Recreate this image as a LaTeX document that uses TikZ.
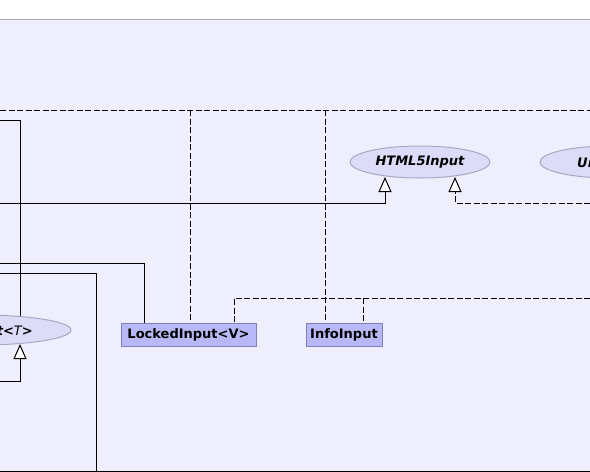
\documentclass[tikz,border=0pt]{standalone}
\usepackage{fontspec}
\setmainfont{DejaVu Sans}
\usetikzlibrary{shapes.geometric,arrows.meta}
\pgfdeclarelayer{back}
\pgfdeclarelayer{bg}
\pgfsetlayers{back,bg,main}
\definecolor{pagebg}{HTML}{EEEEFC}
\definecolor{topline}{HTML}{AAAAB4}
\definecolor{boxfill}{HTML}{B8B8F6}
\definecolor{boxline}{HTML}{7F7FBF}
\definecolor{ellfill}{HTML}{DCDCF8}
\definecolor{ellline}{HTML}{A8A8C4}
\tikzset{
  classbox/.style={draw=boxline,fill=boxfill,line width=1pt,rectangle,inner sep=0pt,
    font=\bfseries\fontsize{13}{15}\selectfont},
  ifell/.style={draw=ellline,fill=ellfill,line width=1pt,ellipse,inner sep=0pt,
    font=\bfseries\itshape\fontsize{13}{15}\selectfont},
  conn/.style={line width=1pt,black},
  dconn/.style={conn,dash pattern=on 6pt off 2.5pt},
  inh/.style={-{Triangle[open,length=15pt,width=13pt,fill=white]}},
}
\begin{document}
\begin{tikzpicture}[x=1pt,y=-1pt]
\useasboundingbox (0,0) rectangle (590,472);
\clip (0,0) rectangle (590,472);
\begin{pgfonlayer}{back}
\fill[white] (0,0) rectangle (590,472);
\fill[pagebg] (0,19.5) rectangle (590,472);
\draw[topline,line width=1pt] (0,19.5) -- (590,19.5);
\end{pgfonlayer}

% nodes
\node[ifell,minimum width=140pt,minimum height=32pt] (html5) at (420,162) {HTML5Input};
\node[ifell,minimum width=140pt,minimum height=32pt] (ur) at (610,162) {};
\node[anchor=base west,font=\bfseries\itshape\fontsize{13}{15}\selectfont,inner sep=0pt] (urtext) at (577,167) {Ur};
\node[ifell,minimum width=182pt,minimum height=30pt] (abst) at (-20,330) {};
\node[anchor=base east,font=\bfseries\itshape\fontsize{13}{15}\selectfont,inner sep=0pt] (abstext) at (33,335) {t<{\mdseries T}>};
\node[classbox,minimum width=135pt,minimum height=23pt] (locked) at (188.5,334.5) {LockedInput<V>};
\node[classbox,minimum width=76pt,minimum height=23pt] (info) at (344,334.5) {InfoInput};

% free ends
\coordinate (dL) at (0,110);
\coordinate (dR) at (590,110);
\coordinate (s1) at (0,120);
\coordinate (s2) at (0,203);
\coordinate (d2) at (590,203);
\coordinate (s3) at (0,263);
\coordinate (s4) at (0,273);
\coordinate (s5) at (96,471);
\coordinate (bL) at (0,471);
\coordinate (bR) at (590,471);
\coordinate (d3) at (590,298);
\coordinate (s6) at (0,381);

\begin{pgfonlayer}{bg}
\draw[dconn] (dL) -- (dR);
\draw[dconn] (dL -| 190,0) -- (locked.north -| 190,0);
\draw[dconn] (dL -| 325,0) -- (info.north -| 325,0);
\draw[conn] (s1) -| (abst.center -| 20,0);
\draw[conn] (s3) -| (locked.north -| 144,0);
\draw[conn] (s4) -| (s5);
\draw[conn] (bL) -- (bR);
\draw[dconn] (d3) -| (locked.north -| 234,0);
\draw[dconn] (d3 -| 363,0) -- (info.north -| 363,0);
\end{pgfonlayer}
\draw[conn,inh] (s2) -| (385,177);
\draw[dconn,inh] (d2) -| (455,177);
\draw[conn,inh] (s6) -| (20,344);
\end{tikzpicture}
\end{document}
